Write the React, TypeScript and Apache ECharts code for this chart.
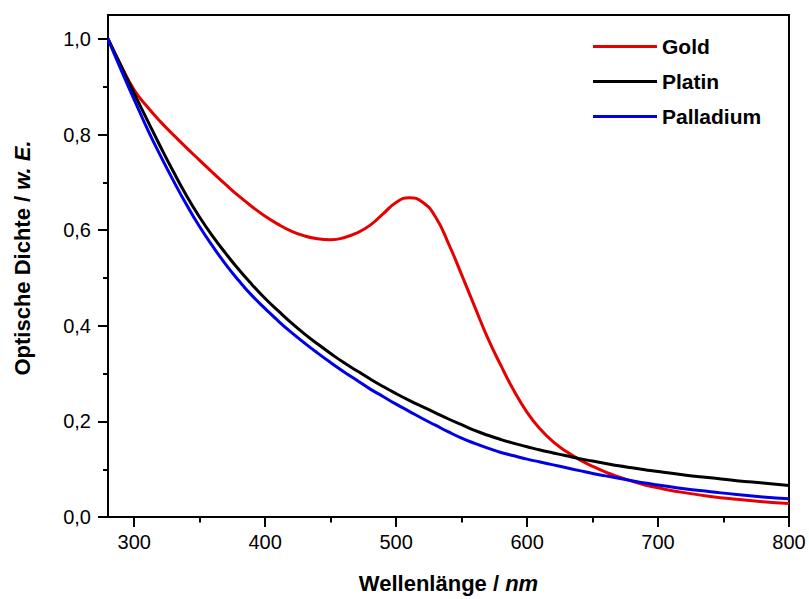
import React, { useEffect, useRef } from "react";
import * as echarts from "echarts";

const wavelengths = [
  280, 290, 300, 310, 320, 330, 340, 350, 360, 370, 380, 390, 400, 410, 420, 430, 440, 450, 460, 470,
  480, 490, 500, 510, 520, 530, 540, 550, 560, 570, 580, 590, 600, 610, 620, 630, 640, 650, 660, 670,
  680, 690, 700, 720, 740, 760, 780, 800,
];

const gold = [
  1.0, 0.944, 0.893, 0.858, 0.827, 0.799, 0.772, 0.746, 0.72, 0.695, 0.671, 0.649, 0.629, 0.612, 0.598, 0.588, 0.582, 0.58, 0.584, 0.594,
  0.61, 0.634, 0.658, 0.668, 0.659, 0.628, 0.572, 0.507, 0.44, 0.374, 0.317, 0.264, 0.219, 0.184, 0.157, 0.137, 0.12, 0.106, 0.094, 0.084,
  0.075, 0.067, 0.061, 0.051, 0.043, 0.037, 0.032, 0.028,
];

const platin = [
  1.0, 0.943, 0.886, 0.83, 0.775, 0.722, 0.672, 0.627, 0.587, 0.551, 0.517, 0.486, 0.457, 0.431, 0.406, 0.383, 0.362, 0.342, 0.323, 0.306,
  0.289, 0.273, 0.258, 0.244, 0.231, 0.218, 0.205, 0.193, 0.181, 0.171, 0.162, 0.154, 0.147, 0.14, 0.134, 0.128, 0.122, 0.117, 0.112, 0.107,
  0.103, 0.099, 0.095, 0.088, 0.082, 0.076, 0.071, 0.066,
];

const palladium = [
  1.0, 0.935, 0.873, 0.812, 0.756, 0.703, 0.653, 0.607, 0.566, 0.528, 0.494, 0.463, 0.436, 0.41, 0.386, 0.364, 0.343, 0.323, 0.304, 0.286,
  0.268, 0.252, 0.236, 0.221, 0.206, 0.192, 0.178, 0.165, 0.154, 0.144, 0.135, 0.128, 0.121, 0.115, 0.109, 0.103, 0.097, 0.091, 0.086, 0.081,
  0.076, 0.071, 0.067, 0.059, 0.053, 0.047, 0.042, 0.038,
];

const seriesNames = ["Gold", "Platin", "Palladium"];
const seriesColors = ["#e60000", "#000000", "#0000e6"];

const xTicks = [300, 400, 500, 600, 700, 800];
const xMinorTicks = [350, 450, 550, 650, 750];
const yTicks = [0, 0.2, 0.4, 0.6, 0.8, 1.0];
const yMinorTicks = [0.1, 0.3, 0.5, 0.7, 0.9];

const FONT = 'Arial, "Liberation Sans", sans-serif';

export default function App() {
  const ref = useRef<HTMLDivElement>(null);

  useEffect(() => {
    if (!ref.current) return;
    const chart = echarts.init(ref.current, undefined, { renderer: "svg" });
    const datasets = [gold, platin, palladium];
    const gridPos = { left: 108, right: 20, top: 15, bottom: 81.5 };

    chart.setOption({
      animation: false,
      backgroundColor: "#ffffff",
      textStyle: { fontFamily: FONT },
      grid: [
        { ...gridPos, show: true, borderColor: "#000", borderWidth: 2, backgroundColor: "transparent" },
        { ...gridPos, show: false },
      ],
      legend: {
        orient: "vertical",
        left: 588,
        top: 31,
        icon: "rect",
        itemWidth: 64,
        itemHeight: 3,
        itemGap: 14,
        data: seriesNames,
        textStyle: { fontSize: 21, fontWeight: "bold", color: "#000", fontFamily: FONT, lineHeight: 21 },
      },
      xAxis: [
        {
          type: "value",
          gridIndex: 0,
          min: 280,
          max: 800,
          name: "{b|Wellenlänge / }{bi|nm}",
          nameLocation: "middle",
          nameGap: 55,
          nameTextStyle: {
            rich: {
              b: { fontSize: 22, fontWeight: "bold", color: "#000", fontFamily: FONT },
              bi: { fontSize: 22, fontWeight: "bold", fontStyle: "italic", color: "#000", fontFamily: FONT },
            },
          },
          axisLine: { show: true, onZero: false, lineStyle: { color: "#000", width: 2 } },
          axisTick: { show: true, length: 10, lineStyle: { color: "#000", width: 2 }, customValues: xTicks },
          axisLabel: { fontSize: 20, color: "#000", margin: 15, fontFamily: FONT, customValues: xTicks },
          splitLine: { show: false },
        },
        {
          type: "value",
          gridIndex: 1,
          min: 280,
          max: 800,
          axisLine: { show: false },
          axisTick: { show: true, length: 5, lineStyle: { color: "#000", width: 2 }, customValues: xMinorTicks },
          axisLabel: { show: false },
          splitLine: { show: false },
        },
      ],
      yAxis: [
        {
          type: "value",
          gridIndex: 0,
          min: 0,
          max: 1.05,
          name: "{b|Optische Dichte / }{bi|w. E.}",
          nameLocation: "middle",
          nameGap: 75,
          nameTextStyle: {
            padding: [0, 0, 0, 16],
            rich: {
              b: { fontSize: 22, fontWeight: "bold", color: "#000", fontFamily: FONT },
              bi: { fontSize: 22, fontWeight: "bold", fontStyle: "italic", color: "#000", fontFamily: FONT },
            },
          },
          axisLine: { show: true, onZero: false, lineStyle: { color: "#000", width: 2 } },
          axisTick: { show: true, length: 10, lineStyle: { color: "#000", width: 2 }, customValues: yTicks },
          axisLabel: {
            fontSize: 20,
            color: "#000",
            margin: 17,
            fontFamily: FONT,
            customValues: yTicks,
            formatter: (v: number) => v.toFixed(1).replace(".", ","),
          },
          splitLine: { show: false },
        },
        {
          type: "value",
          gridIndex: 1,
          min: 0,
          max: 1.05,
          axisLine: { show: false },
          axisTick: { show: true, length: 5, lineStyle: { color: "#000", width: 2 }, customValues: yMinorTicks },
          axisLabel: { show: false },
          splitLine: { show: false },
        },
      ],
      series: seriesNames.map((name, i) => ({
        name,
        type: "line",
        xAxisIndex: 0,
        yAxisIndex: 0,
        smooth: true,
        showSymbol: false,
        symbol: "none",
        color: seriesColors[i],
        lineStyle: { width: 3, color: seriesColors[i] },
        data: wavelengths.map((w, j) => [w, datasets[i][j]]),
      })),
    });

    return () => chart.dispose();
  }, []);

  return (
    <div
      ref={ref}
      style={{ position: "fixed", left: 0, top: 0, width: 809, height: 599, background: "#fff" }}
    />
  );
}
